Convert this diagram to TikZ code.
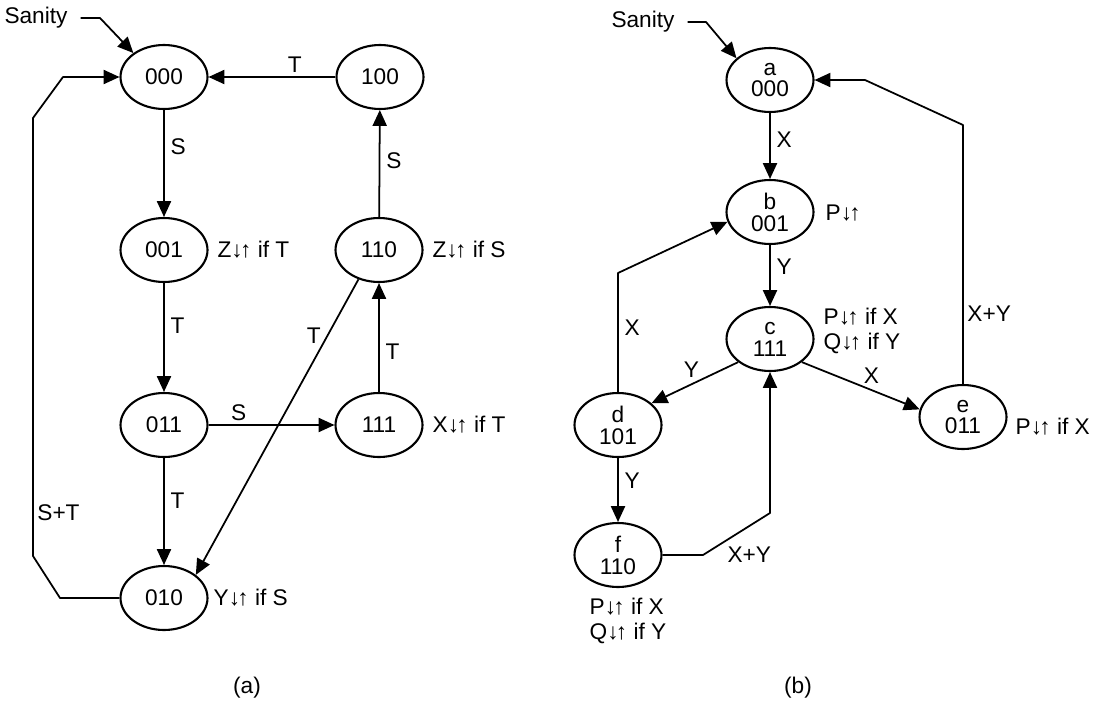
\documentclass[tikz,border=0pt]{standalone}
\usepackage{fontspec}
\setmainfont{Liberation Sans}
\usetikzlibrary{arrows.meta,shapes.geometric}

\newcommand{\dnup}{↓\kern-1.5pt↑}

\begin{document}
\begin{tikzpicture}[
  x=0.02cm,y=-0.02cm,
  line width=1pt,
  line join=round,
  font=\fontsize{12.9}{14.5}\selectfont,
  state/.style={ellipse,draw,line width=1.2pt,minimum width=1.74cm,
    minimum height=1.28cm,inner sep=0pt,align=center,
    font=\fontsize{12.9}{12.5}\selectfont},
  note/.style={anchor=west,inner sep=1pt,align=left},
  start/.style={inner xsep=7pt,inner ysep=1pt},
  >={Triangle[length=9pt,width=8pt]}
]
  \useasboundingbox (0,0) rectangle (1104,703);

  % (a): states of the first machine.
  \foreach \name/\x/\y in {000/164/77,100/380/77,001/164/250,110/379/250,
                           011/164/425,111/379/425,010/164/598}
    \node[state] (L\name) at (\x,\y) {\name};

  \node[start] (sanL) at (36,18) {Sanity};
  \draw[->] (sanL.east) -- (100,18) -- (L000.142);

  \node[note] at (215,250) {Z\dnup{} if T};
  \node[note] at (430,250) {Z\dnup{} if S};
  \node[note] at (430,425) {X\dnup{} if T};
  \node[note] at (211,598) {Y\dnup{} if S};

  % (a): transitions.
  \draw[->] (L000) -- (L001) node[pos=0.34,right] {S};
  \draw[->] (L001) -- (L011) node[pos=0.39,right] {T};
  \draw[->] (L011) -- (L010) node[pos=0.4,right] {T};
  \draw[->] (L011) -- (L111) node[pos=0.24,above,inner sep=2pt] {S};
  \draw[->] (L111) -- (L110) node[pos=0.37,right] {T};
  \draw[->] (L110) -- (L100) node[pos=0.53,right] {S};
  \draw[->] (L100) -- (L000) node[pos=0.32,above,inner sep=2pt] {T};
  \draw[->] (L110.235) -- (L010.36) node[pos=0.19,left] {T};
  \draw[->] (L010.west) -- (60,598) -- (33,556) -- (33,118)
    node[pos=0.1,right,inner sep=2pt] {S+T} -- (63,77) -- (L000.west);

  % (b): states of the second machine.
  \foreach \name/\code/\x/\y in {a/000/770/80,b/001/770/212,c/111/770/339,
                                 d/101/618/425,e/011/963/417,f/110/618/555}
    \node[state] (\name) at (\x,\y) {\name\\\code};

  \node[start] (sanR) at (643,22) {Sanity};
  \draw[->] (sanR.east) -- (706,22) -- (a.147);

  \node[note] at (823,213) {P\dnup};
  \node[note] at (821,331) {P\dnup{} if X\\Q\dnup{} if Y};
  \node[note] at (1013,427) {P\dnup{} if X};
  \node[note,anchor=center] at (628,621) {P\dnup{} if X\\Q\dnup{} if Y};

  % (b): transitions.
  \draw[->] (a) -- (b) node[pos=0.4,right] {X};
  \draw[->] (b) -- (c) node[pos=0.35,right] {Y};
  \draw[->] (d) -- (618,273) node[pos=0.54,right] {X} -- (b.193);
  \draw[->] (c.216) -- (d.33) node[pos=0.54,above] {Y};
  \draw[->] (c.324) -- (e.170) node[pos=0.59,above] {X};
  \draw[->] (e) -- (963,125) node[pos=0.27,right,inner sep=2pt] {X+Y}
    -- (865,80) -- (a);
  \draw[->] (d) -- (f) node[pos=0.35,right] {Y};
  \draw[->] (f) -- (703,555) -- (770,513)
    node[pos=0.3,below right,inner sep=2pt] {X+Y} -- (c);

  \node (capA) at (247,688) {(a)};
  \node (capB) at (798,688) {(b)};
\end{tikzpicture}
\end{document}
